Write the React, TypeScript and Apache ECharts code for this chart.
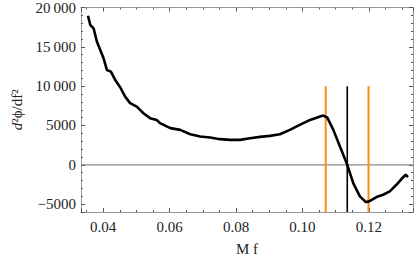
import React, { useEffect, useRef } from "react";
import * as echarts from "echarts";

const mfValues = [
  0.0354, 0.0361, 0.0371, 0.0381, 0.0391, 0.0401, 0.0411, 0.0423, 0.0436, 0.0451,
  0.0466, 0.0481, 0.0491, 0.0501, 0.0521, 0.0541, 0.0561, 0.0571, 0.0602, 0.0632,
  0.0662, 0.0692, 0.0722, 0.0752, 0.0782, 0.0812, 0.0842, 0.0872, 0.0902, 0.0932,
  0.0962, 0.0992, 0.1023, 0.1053, 0.1063, 0.1075, 0.1093, 0.1113, 0.1135, 0.1153,
  0.1173, 0.1191, 0.1201, 0.1223, 0.1243, 0.1263, 0.1283, 0.1298, 0.1311, 0.1318,
];
const d2phiValues = [
  18950, 17770, 17350, 15650, 14600, 13540, 12060, 11840, 10790, 9860,
  8670, 7830, 7610, 7400, 6560, 5930, 5710, 5290, 4660, 4440,
  3890, 3590, 3470, 3260, 3170, 3170, 3380, 3550, 3680, 3890,
  4440, 5080, 5710, 6130, 6260, 6000, 4440, 2320, 0, -2320,
  -4020, -4740, -4650, -4100, -3810, -3380, -2540, -1810, -1270, -1560,
];
const orangeLines = [0.107, 0.1199];
const blackLines = [0.1135];
const markerRange = [-6000, 10000];
const xRange = [0.0333, 0.1333];
const yRange = [-6000, 20000];

const FONT = "Liberation Serif";

function fmtY(v: number): string {
  const a = Math.abs(v);
  let s = String(a);
  if (a >= 10000) s = s.slice(0, s.length - 3) + "\u2009" + s.slice(s.length - 3);
  return (v < 0 ? "\u2212" : "") + s;
}

export default function App() {
  const ref = useRef<HTMLDivElement>(null);
  useEffect(() => {
    if (!ref.current) return;
    const chart = echarts.init(ref.current, undefined, { renderer: "svg" });
    const frameColor = "#999";
    const tickStyle = { inside: true, length: 4, lineStyle: { color: "#555", width: 1 } };
    const minorStyle = { show: true, splitNumber: 4, length: 2, lineStyle: { color: "#555", width: 1 } };
    const baseX = {
      type: "value" as const,
      min: xRange[0],
      max: xRange[1],
      splitNumber: 5,
      axisLine: { show: true, onZero: false, lineStyle: { color: frameColor, width: 1 } },
      axisTick: tickStyle,
      minorTick: minorStyle,
      splitLine: { show: false },
    };
    const baseY = {
      type: "value" as const,
      min: yRange[0],
      max: yRange[1],
      splitNumber: 5,
      axisLine: { show: true, onZero: false, lineStyle: { color: frameColor, width: 1 } },
      axisTick: tickStyle,
      minorTick: { ...minorStyle, splitNumber: 5 },
      splitLine: { show: false },
    };
    const curve = mfValues.map((x, i) => [x, d2phiValues[i]]);
    const vSeries = (xs: number[], color: string, width: number) =>
      xs.map((x) => ({
        type: "line" as const,
        data: [[x, markerRange[0]], [x, markerRange[1]]],
        symbol: "none",
        lineStyle: { color, width },
        z: 3,
      }));
    chart.setOption({
      animation: false,
      textStyle: { fontFamily: FONT },
      grid: { left: 81, right: 2, top: 7, bottom: 49 },
      xAxis: [
        {
          ...baseX,
          position: "bottom",
          name: "M f",
          nameLocation: "middle",
          nameGap: 29,
          nameTextStyle: { fontFamily: FONT, fontSize: 15, color: "#222" },
          axisLabel: {
            fontFamily: FONT,
            fontSize: 15,
            color: "#222",
            margin: 7,
            showMinLabel: false,
            showMaxLabel: false,
            formatter: (v: number) => v.toFixed(2),
          },
        },
        { ...baseX, position: "top", axisLabel: { show: false } },
      ],
      yAxis: [
        {
          ...baseY,
          position: "left",
          name: "{i|d}²ϕ/df²",
          nameLocation: "middle",
          nameGap: 39,
          nameRotate: 90,
          nameTextStyle: {
            fontFamily: FONT,
            fontSize: 15,
            color: "#222",
            rich: { i: { fontFamily: FONT, fontSize: 15, fontStyle: "italic", color: "#222" } },
          },
          axisLabel: {
            fontFamily: FONT,
            fontSize: 15,
            color: "#222",
            margin: 5,
            showMinLabel: false,
            showMaxLabel: true,
            formatter: (v: number) => fmtY(v),
          },
        },
        { ...baseY, position: "right", axisLabel: { show: false } },
      ],
      series: [
        {
          type: "line",
          data: [[xRange[0], 0], [xRange[1], 0]],
          symbol: "none",
          lineStyle: { color: "#888", width: 1.2 },
          z: 1,
        },
        ...vSeries(orangeLines, "#FF8A10", 2),
        ...vSeries(blackLines, "#000", 1.6),
        {
          type: "line",
          data: curve,
          symbol: "none",
          lineStyle: { color: "#000", width: 2.6 },
          z: 4,
        },
      ],
    });
    return () => chart.dispose();
  }, []);
  return (
    <div
      ref={ref}
      style={{ position: "absolute", left: 0, top: 0, width: 415, height: 261 }}
    />
  );
}
